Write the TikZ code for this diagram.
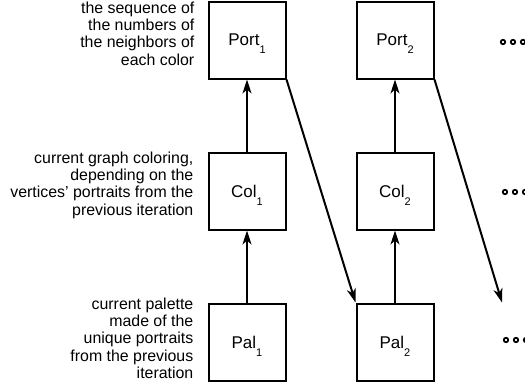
\documentclass[tikz,border=0pt]{standalone}
\usepackage{fontspec}
\setmainfont{Liberation Sans}
\usetikzlibrary{positioning,arrows.meta}

\newcommand{\idx}[1]{\raisebox{-8pt}[0pt][0pt]{\fontsize{11}{11}\selectfont #1}}

\begin{document}
\begin{tikzpicture}[x=1pt, y=1pt,
  box/.style = {draw, line width=2pt, minimum size=77pt, inner sep=0pt,
    font=\fontsize{17}{20}\selectfont},
  note/.style = {align=right, inner sep=0pt, anchor=north east,
    font=\fontsize{15.9}{17.3}\selectfont},
  flow/.style = {-{Stealth[length=14pt, width=9pt, inset=4pt]}, line width=2pt}]
  \useasboundingbox (0,0) rectangle (525,-388);
  % first iteration
  \node[box] (pal1) at (247,-342) {Pal\idx{1}};
  \node[box] (col1) [above=72pt of pal1] {Col\idx{1}};
  \node[box] (port1) [above=72pt of col1] {Port\idx{1}};
  % second iteration
  \node[box] (pal2) [right=69pt of pal1] {Pal\idx{2}};
  \node[box] (col2) [above=72pt of pal2] {Col\idx{2}};
  \node[box] (port2) [above=72pt of col2] {Port\idx{2}};
  \coordinate (pal3) at ([xshift=146.5pt]pal2.north west);
  % notes
  \node[note] (portnote) at ([xshift=-13pt, yshift=-1pt]port1.north west)
    {the sequence of\\the numbers of\\the neighbors of\\each color};
  \node[note] (colnote) at ([xshift=-14pt]col1.north west)
    {current graph coloring,\\depending on the\\vertices' portraits from the\\previous iteration};
  \node[note] (palnote) at ([xshift=-14pt, yshift=5pt]pal1.north west)
    {current palette\\made of the\\unique portraits\\from the previous\\iteration};
  % arrows
  \draw[flow] (pal1) -- (col1);
  \draw[flow] (col1) -- (port1);
  \draw[flow] (pal2) -- (col2);
  \draw[flow] (col2) -- (port2);
  \draw[flow] (port1.south east) -- (pal2.north west);
  \draw[flow] (port2.south east) -- (pal3);
  % more iterations
  \foreach \y/\x in {42/503, 192/505, 340/506}
    \foreach \k in {0,1,2}
      \draw[line width=1.8pt] (\x+10*\k,-\y) circle (2.2pt);
\end{tikzpicture}
\end{document}
